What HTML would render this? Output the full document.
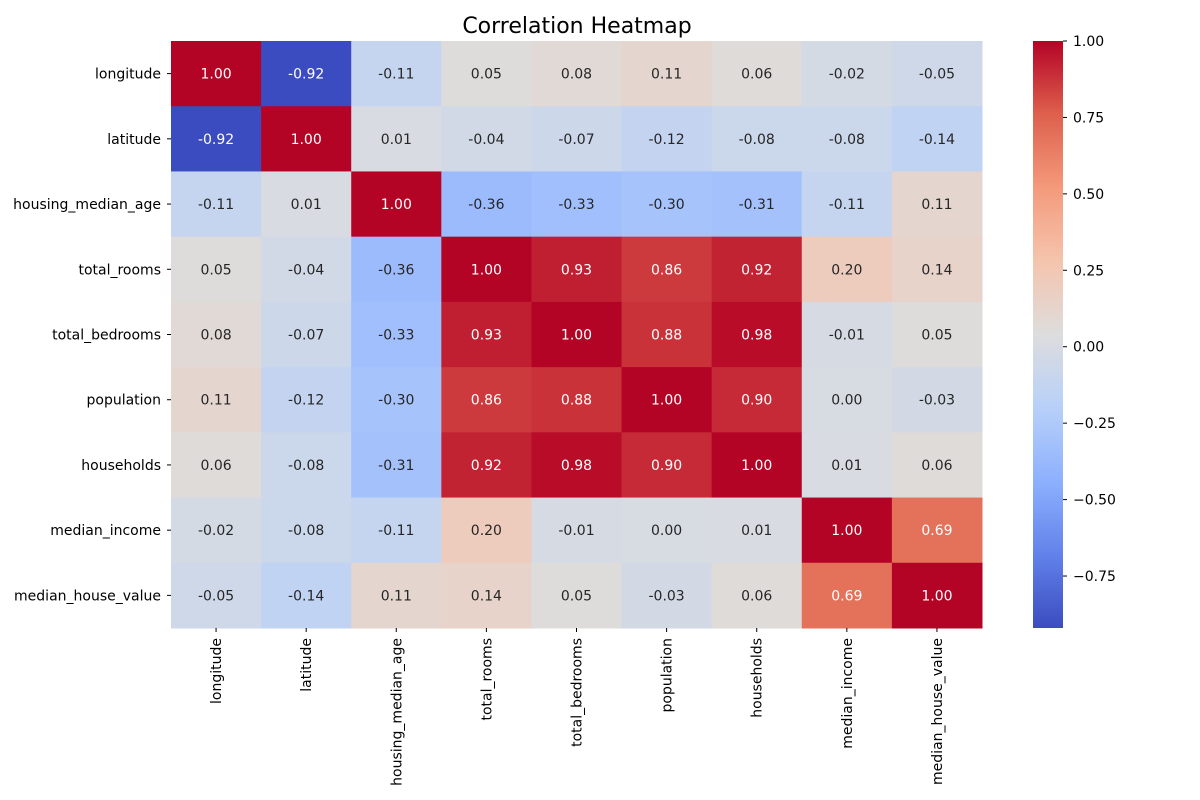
<!DOCTYPE html>
<html><head><meta charset="utf-8"><style>
html,body{margin:0;padding:0;background:#fff;}
svg{display:block;font-family:"DejaVu Sans","Liberation Sans",sans-serif;}
</style></head><body>
<svg id="chart" width="1200" height="800" viewBox="0 0 1200 800">
<text x="577" y="33" font-size="22" text-anchor="middle" fill="#000">Correlation Heatmap</text>
<g id="cells"></g><g id="ylab"></g><g id="xlab"></g><g id="cbar"></g>
</svg>
<script>
const labels = ["longitude","latitude","housing_median_age","total_rooms","total_bedrooms","population","households","median_income","median_house_value"];
const row0 = [1.00,-0.92,-0.11,0.05,0.08,0.11,0.06,-0.02,-0.05];
const row1 = [-0.92,1.00,0.01,-0.04,-0.07,-0.12,-0.08,-0.08,-0.14];
const row2 = [-0.11,0.01,1.00,-0.36,-0.33,-0.30,-0.31,-0.11,0.11];
const row3 = [0.05,-0.04,-0.36,1.00,0.93,0.86,0.92,0.20,0.14];
const row4 = [0.08,-0.07,-0.33,0.93,1.00,0.88,0.98,-0.01,0.05];
const row5 = [0.11,-0.12,-0.30,0.86,0.88,1.00,0.90,0.00,-0.03];
const row6 = [0.06,-0.08,-0.31,0.92,0.98,0.90,1.00,0.01,0.06];
const row7 = [-0.02,-0.08,-0.11,0.20,-0.01,0.00,0.01,1.00,0.69];
const row8 = [-0.05,-0.14,0.11,0.14,0.05,-0.03,0.06,0.69,1.00];
const matrix = [row0,row1,row2,row3,row4,row5,row6,row7,row8];
const cbarTicks = [1.00,0.75,0.50,0.25,0.00,-0.25,-0.50,-0.75];

const NS="http://www.w3.org/2000/svg";
const X0=171,X1=982,Y0=41,Y1=628;
const n=labels.length, cw=(X1-X0)/n, ch=(Y1-Y0)/n;
const vmin=Math.min(...matrix.flat()), vmax=Math.max(...matrix.flat());
const stops=[[59,76,192],[98,130,234],[141,176,254],[184,208,249],[221,221,221],[245,196,173],[244,154,123],[222,96,77],[180,4,38]];
function cmap(v){let t=(v-vmin)/(vmax-vmin);t=Math.max(0,Math.min(1,t));const p=t*8,i=Math.min(7,Math.floor(p)),f=p-i;
 return stops[i].map((c,k)=>Math.round(c+(stops[i+1][k]-c)*f));}
function lum(c){const l=c.map(x=>{x/=255;return x<=0.03928?x/12.92:Math.pow((x+0.055)/1.055,2.4);});return 0.2126*l[0]+0.7152*l[1]+0.0722*l[2];}
function mk(tag,attrs,parent){const e=document.createElementNS(NS,tag);for(const k in attrs)e.setAttribute(k,attrs[k]);parent.appendChild(e);return e;}
const gc=document.getElementById('cells'),gy=document.getElementById('ylab'),gx=document.getElementById('xlab'),gb=document.getElementById('cbar');
function fmt(v){return (v<0?"-":"")+Math.abs(v).toFixed(2);}
const FS=14;
for(let r=0;r<n;r++){for(let c=0;c<n;c++){
 const v=matrix[r][c],col=cmap(v);
 const rect=mk('rect',{x:X0+c*cw,y:Y0+r*ch,width:cw+0.5,height:ch+0.5,fill:`rgb(${col})`},gc);
 
 
 const t=mk('text',{x:X0+(c+0.5)*cw,y:Y0+(r+0.5)*ch+5,'font-size':FS,'text-anchor':'middle',fill:lum(col)<0.408?'#fff':'#262626'},gc);
 t.textContent=fmt(v);
 
 
}}
labels.forEach((l,i)=>{
 const y=Y0+(i+0.5)*ch;
 mk('line',{x1:X0-4,x2:X0,y1:y,y2:y,stroke:'#000','stroke-width':1},gy);
 const t=mk('text',{x:X0-10,y:y+5,'font-size':FS,'text-anchor':'end',fill:'#000'},gy);
 t.textContent=l;
 
 
 const x=X0+(i+0.5)*cw;
 mk('line',{x1:x,x2:x,y1:Y1,y2:Y1+4,stroke:'#000','stroke-width':1},gx);
 const tx=mk('text',{x:0,y:0,'font-size':FS,'text-anchor':'end',fill:'#000',transform:`translate(${x+5},${Y1+10}) rotate(-90)`},gx);
 tx.textContent=l;
 
 
});
const CX=1033,CW=30;
const defs=mk('defs',{},gb);
const lg=mk('linearGradient',{id:'cg',x1:0,y1:1,x2:0,y2:0},defs);
for(let k=0;k<=40;k++){const v=vmin+(vmax-vmin)*k/40;mk('stop',{offset:k/40,'stop-color':`rgb(${cmap(v)})`},lg);}
const cb=mk('rect',{x:CX,y:Y0,width:CW,height:Y1-Y0,fill:'url(#cg)'},gb);


function cy(v){return Y1-(v-vmin)/(vmax-vmin)*(Y1-Y0);}
cbarTicks.forEach(v=>{
 const y=cy(v);
 mk('line',{x1:CX+CW,x2:CX+CW+4,y1:y,y2:y,stroke:'#000','stroke-width':1},gb);
 const t=mk('text',{x:CX+CW+10,y:y+5,'font-size':FS,fill:'#000'},gb);
 t.textContent=(v<0?"\u2212":"")+Math.abs(v).toFixed(2);
 
 
});
</script>
</body></html>
